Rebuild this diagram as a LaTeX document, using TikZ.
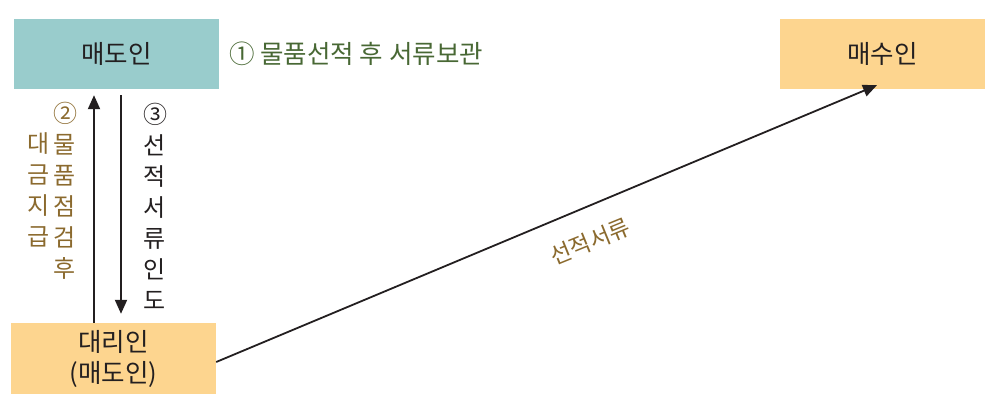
\documentclass[tikz,border=0pt]{standalone}
\usepackage{fontspec}
\setmainfont{Noto Sans CJK KR}
\usetikzlibrary{arrows.meta}
\definecolor{tealbox}{RGB}{153,204,204}
\definecolor{orangebox}{RGB}{253,213,143}
\definecolor{greentxt}{RGB}{72,104,52}
\definecolor{browntxt}{RGB}{139,106,46}
\definecolor{inkc}{RGB}{35,31,32}
\tikzset{
  box/.style={rectangle, inner sep=0pt, minimum width=205pt, text=inkc, font=\fontsize{25.5}{31}\selectfont, align=center},
  arr/.style={draw=inkc, line width=2pt, -{Triangle[length=14pt,width=12pt]}},
  diag/.style={draw=inkc, line width=1.8pt, -{Triangle[length=14pt,width=12pt]}},
  vtext/.style={align=center, font=\fontsize{24}{31}\selectfont},
}
\begin{document}
\begin{tikzpicture}[x=1pt,y=-1pt]
\useasboundingbox (0,0) rectangle (985,394);
\node[box, fill=tealbox, minimum height=70pt] (seller) at (116.5,54) {매도인};
\node[box, fill=orangebox, minimum height=70pt] (buyer) at (882.5,54) {매수인};
\node[box, fill=orangebox, minimum height=71pt] (agent) at (113.5,358.5) {대리인\\(매도인)};
\node[anchor=west, text=greentxt, font=\fontsize{25.5}{30}\selectfont, inner sep=0pt] (step1) at (229,54) {① 물품선적 후 서류보관};
\coordinate (upx) at (94,0);
\coordinate (downx) at (121,0);
\draw[arr, shorten >=6pt] (agent.north -| upx) -- (seller.south -| upx);
\draw[arr, shorten <=6pt, shorten >=9pt] (seller.south -| downx) -- (agent.north -| downx);
\node[vtext, text=browntxt] (col1) at (39,190) {대\\금\\지\\급};
\node[vtext, text=browntxt] (col2) at (65,190.5) {②\\물\\품\\점\\검\\후};
\node[vtext, text=inkc] (col3) at (155,206) {③\\선\\적\\서\\류\\인\\도};
\draw[diag] ([yshift=-3.5pt]agent.east) -- ([xshift=-5.5pt,yshift=4pt]buyer.south);
\node[text=browntxt, font=\fontsize{23}{27}\selectfont, rotate=22.2, inner sep=0pt] (lbl) at (590,242) {선적서류};
\end{tikzpicture}
\end{document}
